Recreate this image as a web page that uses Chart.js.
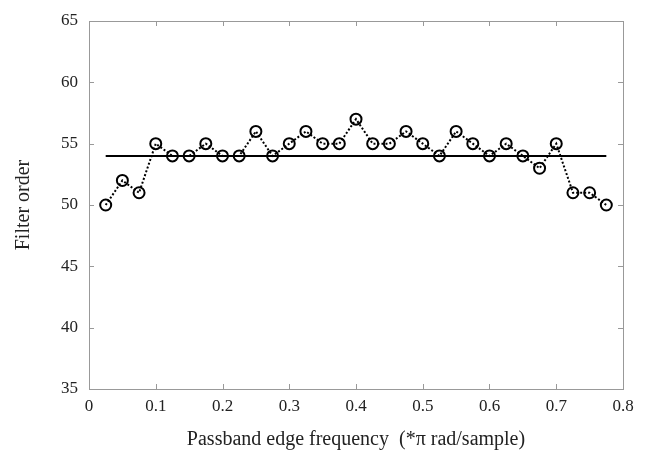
<!DOCTYPE html>
<html>
<head>
<meta charset="utf-8">
<script src="https://cdn.jsdelivr.net/npm/chart.js@4"></script>
<style>
  html, body { margin: 0; padding: 0; background: #fff; }
  #wrap { width: 645px; height: 453px; }
</style>
</head>
<body>
<div id="wrap"><canvas id="orderChart" width="645" height="453"></canvas></div>
<script>
// passband edge frequency (*pi rad/sample)
const freqs = [0.025, 0.05, 0.075, 0.1, 0.125, 0.15, 0.175, 0.2, 0.225, 0.25,
  0.275, 0.3, 0.325, 0.35, 0.375, 0.4, 0.425, 0.45, 0.475, 0.5,
  0.525, 0.55, 0.575, 0.6, 0.625, 0.65, 0.675, 0.7, 0.725, 0.75, 0.775];
const orders = [50, 52, 51, 55, 54, 54, 55, 54, 54, 56,
  54, 55, 56, 55, 55, 57, 55, 55, 56, 55,
  54, 56, 55, 54, 55, 54, 53, 55, 51, 51, 50];
// fixed reference order
const refOrder = 54;
const refFrom = 0.025;
const refTo = 0.775;

const xTicks = [0, 0.1, 0.2, 0.3, 0.4, 0.5, 0.6, 0.7, 0.8];
const yTicks = [35, 40, 45, 50, 55, 60, 65];

const ctx = document.getElementById('orderChart');
const serif = "'Liberation Serif', 'Times New Roman', serif";

// box round the plot with short inward ticks
const frame = {
  id: 'frame',
  afterDraw(chart) {
    const { ctx, chartArea: a, scales } = chart;
    ctx.save();
    ctx.strokeStyle = '#999';
    ctx.lineWidth = 1;
    ctx.strokeRect(a.left + 0.5, a.top + 0.5, a.right - a.left, a.bottom - a.top);
    ctx.beginPath();
    xTicks.forEach(v => {
      const px = Math.round(scales.x.getPixelForValue(v)) + 0.5;
      ctx.moveTo(px, a.bottom); ctx.lineTo(px, a.bottom - 5);
      ctx.moveTo(px, a.top); ctx.lineTo(px, a.top + 5);
    });
    yTicks.forEach(v => {
      const py = Math.round(scales.y.getPixelForValue(v)) + 0.5;
      ctx.moveTo(a.left, py); ctx.lineTo(a.left + 5, py);
      ctx.moveTo(a.right, py); ctx.lineTo(a.right - 5, py);
    });
    ctx.stroke();
    ctx.restore();
  }
};

new Chart(ctx, {
  type: 'scatter',
  data: {
    datasets: [{
      label: 'Filter order',
      data: freqs.map((f, i) => ({ x: f, y: orders[i] })),
      showLine: true,
      borderColor: '#000',
      borderWidth: 2,
      borderDash: [2, 2],
      pointRadius: 5.5,
      pointBorderWidth: 2,
      pointBorderColor: '#000',
      pointBackgroundColor: 'rgba(0,0,0,0)',
      order: 1
    }, {
      label: 'Reference',
      data: [{ x: refFrom, y: refOrder }, { x: refTo, y: refOrder }],
      showLine: true,
      borderColor: '#000',
      borderWidth: 2,
      pointRadius: 0,
      order: 2
    }]
  },
  options: {
    responsive: false,
    animation: false,
    layout: { padding: { top: 21, right: 22, bottom: 0, left: 0 } },
    plugins: { legend: { display: false }, tooltip: { enabled: false } },
    scales: {
      x: {
        type: 'linear',
        min: 0, max: 0.8,
        afterBuildTicks: s => { s.ticks = xTicks.map(v => ({ value: v })); },
        afterFit: s => { s.height = 453 - 389; },
        grid: { display: false },
        border: { display: false },
        ticks: {
          color: '#222',
          font: { family: serif, size: 17 },
          padding: -1,
          maxRotation: 0,
          callback: v => v === 0 ? '0' : String(v)
        },
        title: {
          display: true,
          text: 'Passband edge frequency  (*\u03c0 rad/sample)',
          color: '#222',
          font: { family: serif, size: 20 },
          padding: { top: 10, bottom: 1 }
        }
      },
      y: {
        min: 35, max: 65,
        afterBuildTicks: s => { s.ticks = yTicks.map(v => ({ value: v })); },
        afterFit: s => { s.width = 89; },
        grid: { display: false },
        border: { display: false },
        ticks: {
          color: '#222',
          font: { family: serif, size: 17 },
          padding: 3
        },
        title: {
          display: true,
          text: 'Filter order',
          color: '#222',
          font: { family: serif, size: 20 },
          padding: { top: 12, bottom: 4 }
        }
      }
    }
  },
  plugins: [frame]
});
</script>
</body>
</html>
